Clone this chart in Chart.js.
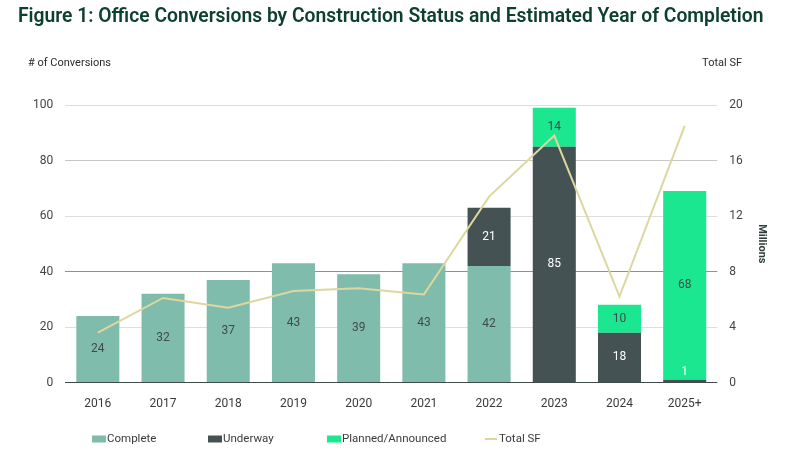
<!doctype html>
<html lang="en">
<head>
<meta charset="utf-8" />
<title>Office Conversions</title>
<style>
  html, body { margin: 0; padding: 0; background: #fff; }
  #wrap { width: 787px; height: 461px; }
</style>
</head>
<body>
<div id="wrap"><canvas id="myChart" width="787" height="461"></canvas></div>
<script src="https://cdn.jsdelivr.net/npm/chart.js@4.4.1/dist/chart.umd.min.js"></script>
<script>
// data
var years = ['2016', '2017', '2018', '2019', '2020', '2021', '2022', '2023', '2024', '2025+'];
var complete = [24, 32, 37, 43, 39, 43, 42, 0, 0, 0];
var underway = [0, 0, 0, 0, 0, 0, 21, 85, 18, 1];
var planned = [0, 0, 0, 0, 0, 0, 0, 14, 10, 68];
var totalSF = [3.6, 6.1, 5.4, 6.6, 6.8, 6.35, 13.4, 17.8, 6.2, 18.5]; // millions
var leftTicks = [0, 20, 40, 60, 80, 100];
var rightTicks = [0, 4, 8, 12, 16, 20];

var FONT = 'Roboto, "Noto Sans", sans-serif';
var labelColors = ['#3f4b4b', '#ffffff', '#3f4b4b'];
var legendX = [92, 208, 327, 485];

// numbers inside the bar segments
const barLabels = {
  id: 'barLabels',
  afterDatasetsDraw(chart) {
    const ctx = chart.ctx;
    ctx.save();
    ctx.font = '12px ' + FONT;
    ctx.textAlign = 'center';
    ctx.textBaseline = 'middle';
    for (let d = 0; d < 3; d++) {
      const meta = chart.getDatasetMeta(d);
      meta.data.forEach(function (bar, i) {
        const v = chart.data.datasets[d].data[i];
        if (!v) return;
        let y = (bar.y + bar.base) / 2;
        if (bar.base - bar.y < 16) y = bar.base - 10;
        ctx.fillStyle = labelColors[d];
        ctx.fillText(String(v), bar.x, y);
      });
    }
    ctx.restore();
  }
};

// title, axis captions and the legend row
const texts = {
  id: 'texts',
  afterDraw(chart) {
    const ctx = chart.ctx;
    ctx.save();
    ctx.textBaseline = 'middle';
    ctx.fillStyle = '#0e4030';
    ctx.font = '600 19.3px ' + FONT;
    ctx.textAlign = 'left';
    ctx.fillText('Figure 1: Office Conversions by Construction Status and Estimated Year of Completion', 18, 17);
    ctx.fillStyle = '#2b2b2b';
    ctx.font = '11px ' + FONT;
    ctx.fillText('# of Conversions', 28, 63);
    ctx.textAlign = 'right';
    ctx.fillText('Total SF', 742, 63);

    // legend
    ctx.textAlign = 'left';
    ctx.font = '11.5px ' + FONT;
    chart.data.datasets.forEach(function (ds, i) {
      const x = legendX[i], y = 439;
      if (ds.type === 'line') {
        ctx.strokeStyle = ds.borderColor;
        ctx.lineWidth = 2;
        ctx.beginPath();
        ctx.moveTo(x, y);
        ctx.lineTo(x + 12, y);
        ctx.stroke();
        ctx.fillStyle = '#3a3a3a';
        ctx.fillText(ds.label, x + 14, y);
      } else {
        ctx.fillStyle = ds.backgroundColor;
        ctx.fillRect(x, y - 3.5, 14, 7);
        ctx.fillStyle = '#3a3a3a';
        ctx.fillText(ds.label, x + 15, y);
      }
    });
    ctx.restore();
  }
};

function gridColor(c) {
  const v = c.tick.value;
  if (v === 0) return '#3f4b4b';
  if (v === 40) return '#8a9494';
  if (v === 80) return '#c4c8c8';
  return '#dedede';
}

new Chart(document.getElementById('myChart'), {
  type: 'bar',
  data: {
    labels: years,
    datasets: [
      { label: 'Complete', data: complete, backgroundColor: '#80bcab', stack: 's', yAxisID: 'y', order: 2 },
      { label: 'Underway', data: underway, backgroundColor: '#445254', stack: 's', yAxisID: 'y', order: 2 },
      { label: 'Planned/Announced', data: planned, backgroundColor: '#1ae78f', stack: 's', yAxisID: 'y', order: 2 },
      { type: 'line', label: 'Total SF', data: totalSF, borderColor: '#ddd79f', backgroundColor: '#ddd79f',
        borderWidth: 2, pointRadius: 0, tension: 0, yAxisID: 'y2', order: 1 }
    ]
  },
  options: {
    responsive: false,
    animation: false,
    barPercentage: 0.66,
    categoryPercentage: 1,
    layout: { padding: { top: 105, left: 21, right: 4, bottom: 44 } },
    plugins: {
      legend: { display: false },
      tooltip: { enabled: false }
    },
    scales: {
      x: {
        stacked: true,
        grid: { display: false },
        border: { display: false },
        ticks: { color: '#3a3a3a', font: { family: FONT, size: 12 }, padding: 6 }
      },
      y: {
        stacked: true,
        min: 0, max: 100,
        afterBuildTicks(ax) { ax.ticks = leftTicks.map(function (v) { return { value: v }; }); },
        grid: { color: gridColor, lineWidth: 1, drawTicks: false },
        border: { display: false },
        ticks: { color: '#444', font: { family: FONT, size: 12 }, padding: 12 }
      },
      y2: {
        position: 'right',
        min: 0, max: 20,
        afterBuildTicks(ax) { ax.ticks = rightTicks.map(function (v) { return { value: v }; }); },
        grid: { display: false, drawTicks: false },
        border: { display: false },
        ticks: { color: '#444', font: { family: FONT, size: 12 }, padding: 12 },
        title: { display: true, text: 'Millions', color: '#2e3d3b', font: { family: FONT, size: 11, weight: 'bold' }, padding: { top: 15, bottom: 0 } }
      }
    }
  },
  plugins: [barLabels, texts]
});
</script>
</body>
</html>
